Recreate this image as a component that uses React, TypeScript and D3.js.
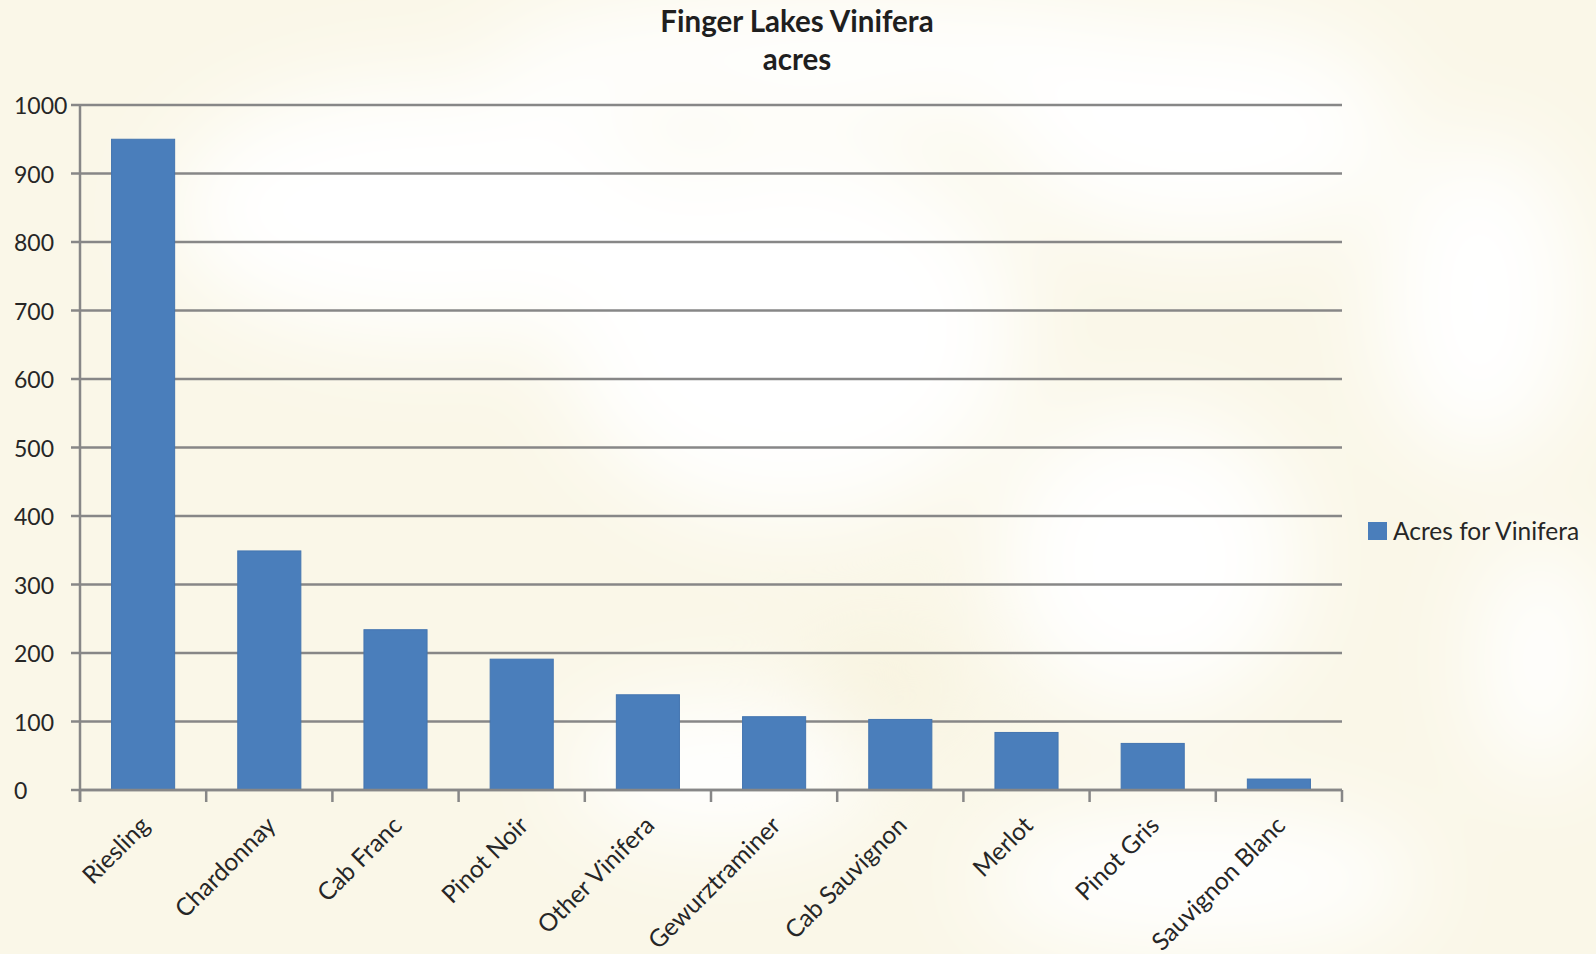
import React from "react";
import * as d3 from "d3";

const categories = [
  "Riesling",
  "Chardonnay",
  "Cab Franc",
  "Pinot Noir",
  "Other Vinifera",
  "Gewurztraminer",
  "Cab Sauvignon",
  "Merlot",
  "Pinot Gris",
  "Sauvignon Blanc",
];
const acres = [950, 349, 234, 191, 139, 107, 103, 84, 68, 16];
const yTicks = [0, 100, 200, 300, 400, 500, 600, 700, 800, 900, 1000];
const titleLines = ["Finger Lakes Vinifera", "acres"];
const seriesName = "Acres for Vinifera";

const W = 1596;
const H = 954;
const FONT = "Lato, 'Open Sans', sans-serif";

const whiteBlobs = [
  { cx: 850, cy: 55, rx: 360, ry: 60 },
  { cx: 430, cy: 210, rx: 260, ry: 130 },
  { cx: 790, cy: 330, rx: 230, ry: 190 },
  { cx: 1200, cy: 130, rx: 200, ry: 110 },
  { cx: 1150, cy: 560, rx: 150, ry: 150 },
  { cx: 720, cy: 770, rx: 150, ry: 70 },
  { cx: 1200, cy: 880, rx: 220, ry: 70 },
  { cx: 1480, cy: 300, rx: 100, ry: 160 },
  { cx: 1540, cy: 660, rx: 60, ry: 120 },
];

export default function App() {
  const x = d3
    .scaleBand<string>()
    .domain(categories)
    .range([80, 1342])
    .paddingInner(0.5)
    .paddingOuter(0.25);
  const y = d3.scaleLinear().domain([0, 1000]).range([790, 105]);
  const step = x.step();
  const gap = (step - x.bandwidth()) / 2;
  const xTickPos = categories.map((c) => (x(c) as number) - gap);
  xTickPos.push(1342);
  const gridColor = "#878787";

  return (
    <div style={{ position: "fixed", left: 0, top: 0, width: W, height: H }}>
      <svg width={W} height={H} viewBox={`0 0 ${W} ${H}`} style={{ display: "block" }}>
        <defs>
          <filter id="blur" x="-50%" y="-50%" width="200%" height="200%">
            <feGaussianBlur stdDeviation="45" />
          </filter>
        </defs>
        <rect x={0} y={0} width={W} height={H} fill="#FAF7E8" />
        <g filter="url(#blur)">
          {whiteBlobs.map((b, i) => (
            <ellipse key={i} cx={b.cx} cy={b.cy} rx={b.rx} ry={b.ry} fill="#FFFFFF" />
          ))}
          <ellipse cx={880} cy={690} rx={70} ry={35} fill="#F6F0D8" />
        </g>

        {/* title */}
        <text
          x={797}
          y={32}
          textAnchor="middle"
          fontFamily={FONT}
          fontWeight="bold"
          fontSize={29.5}
          fill="#1f1f1f"
        >
          {titleLines[0]}
        </text>
        <text
          x={797}
          y={70}
          textAnchor="middle"
          fontFamily={FONT}
          fontWeight="bold"
          fontSize={29.5}
          fill="#1f1f1f"
        >
          {titleLines[1]}
        </text>

        {/* gridlines */}
        {yTicks.map((t) => (
          <line
            key={t}
            x1={71}
            x2={1342}
            y1={y(t)}
            y2={y(t)}
            stroke={gridColor}
            strokeWidth={2.5}
          />
        ))}
        {/* y axis */}
        <line x1={80} x2={80} y1={y(1000)} y2={802} stroke={gridColor} strokeWidth={2.5} />
        {yTicks.map((t) => (
          <text
            key={t}
            x={14}
            y={y(t)}
            dominantBaseline="central"
            fontFamily={FONT}
            fontSize={23}
            fill="#262626"
          >
            {t}
          </text>
        ))}

        {/* bars */}
        {categories.map((c, i) => (
          <rect
            key={c}
            x={x(c)}
            y={y(acres[i])}
            width={x.bandwidth()}
            height={y(0) - y(acres[i])}
            fill="#4A7EBB"
            stroke="#4475B0"
            strokeWidth={1}
          />
        ))}

        {/* x axis */}
        <line x1={80} x2={1342} y1={y(0)} y2={y(0)} stroke={gridColor} strokeWidth={2.5} />
        {xTickPos.map((p, i) => (
          <line key={i} x1={p} x2={p} y1={y(0)} y2={802} stroke={gridColor} strokeWidth={2.5} />
        ))}
        {categories.map((c) => {
          const cx = (x(c) as number) + x.bandwidth() / 2;
          return (
            <text
              key={c}
              transform={`translate(${cx + 8},${y(0) + 37}) rotate(-45)`}
              textAnchor="end"
              fontFamily={FONT}
              fontSize={24.5}
              fill="#262626"
            >
              {c}
            </text>
          );
        })}

        {/* legend */}
        <rect x={1368} y={522} width={19} height={18} fill="#4A7EBB" />
        <text x={1393} y={540} fontFamily={FONT} fontSize={24.5} fill="#262626">
          {seriesName}
        </text>
      </svg>
    </div>
  );
}
